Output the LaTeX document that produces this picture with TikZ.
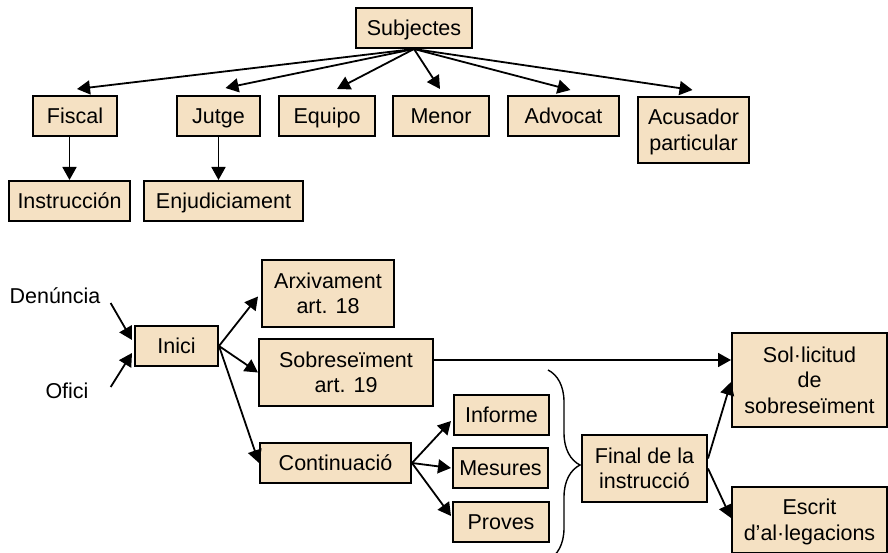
\documentclass[tikz,border=0pt]{standalone}
\usepackage{fontspec}
\setmainfont{Liberation Sans}
\usetikzlibrary{arrows.meta,decorations.pathreplacing,calc}
\definecolor{boxfill}{HTML}{F5E1C3}
\newcommand\mystrut{\rule[-5.1pt]{0pt}{25.5pt}}
\begin{document}
\begin{tikzpicture}[x=1pt,y=-1pt,
  box/.style={draw=black, line width=2pt, fill=boxfill, inner sep=0pt, align=center,
    font=\fontsize{21.5}{25.5}\selectfont},
  sz/.style 2 args={minimum width=#1pt, minimum height=#2pt},
  arr/.style={line width=1.8pt, -{Triangle[length=13pt,width=14pt]}},
  lbl/.style={inner sep=0pt, font=\fontsize{21.5}{25.5}\selectfont}]
\useasboundingbox (0,0) rectangle (888,553);
\clip (0,0) rectangle (888,553);

% ---- top tree ----
\node[box, sz={116}{40}] (subj) at (414,28) {\mystrut Subjectes};
\node[box, sz={84}{40}] (fiscal) at (75,116) {\mystrut Fiscal};
\node[box, sz={83}{40}] (jutge) at (218.5,116) {\mystrut Jutge};
\node[box, sz={96}{40}] (equipo) at (327,116) {\mystrut Equipo};
\node[box, sz={96}{40}] (menor) at (441,116) {\mystrut Menor};
\node[box, sz={111}{40}] (advocat) at (563.5,116) {\mystrut Advocat};
\node[box, sz={111}{66}] (acus) at (693.5,130) {\mystrut Acusador\\\mystrut particular};
\node[box, sz={121}{40}] (instr) at (69.5,201) {\mystrut Instrucción};
\node[box, sz={159}{40}] (enj) at (223.5,201) {\mystrut Enjudiciament};

\draw[arr] (subj.south) -- ([xshift=2pt,yshift=6pt]fiscal.north);
\draw[arr] (subj.south) -- ([xshift=7pt,yshift=7pt]jutge.north);
\draw[arr] (subj.south) -- ([xshift=10pt,yshift=6pt]equipo.north);
\draw[arr] (subj.south) -- ([xshift=-1pt,yshift=6pt]menor.north);
\draw[arr] (subj.south) -- ([xshift=7pt,yshift=5pt]advocat.north);
\draw[arr] (subj.south) -- ([xshift=-1pt,yshift=6pt]acus.north);
\draw[arr] (fiscal.south -| instr.north) -- (instr.north);
\draw[arr] (jutge.south) -- (jutge.south |- enj.north);

% ---- bottom flow ----
\node[lbl] (den) at (55,296) {Denúncia};
\node[lbl] (ofi) at (67,391) {Ofici};
\node[box, sz={83}{40}] (inici) at (176.5,346) {\mystrut Inici};
\node[box, sz={132}{67}] (arxiv) at (328,293.5) {\mystrut Arxivament\\\mystrut art. 18};
\node[box, sz={174}{67}] (sob) at (346,372.5) {\mystrut Sobreseïment\\\mystrut art. 19};
\node[box, sz={151}{40}] (cont) at (335.5,463) {\mystrut Continuació};
\node[box, sz={95}{40}] (informe) at (501.5,415) {\mystrut Informe};
\node[box, sz={95}{40}] (mesures) at (500.5,468) {\mystrut Mesures};
\node[box, sz={96}{40}] (proves) at (501,522) {\mystrut Proves};
\node[box, sz={125}{67}] (final) at (644.5,468.5) {\mystrut Final de la\\\mystrut instrucció};
\node[box, sz={155}{94}] (sol) at (809.5,380) {\mystrut Sol·licitud\\\mystrut de\\\mystrut sobreseïment};
\node[box, sz={155}{66}] (escrit) at (809.5,520) {\mystrut Escrit\\\mystrut d’al·legacions};

\draw[arr] ([xshift=10pt,yshift=-7pt]den.east) -- ([xshift=-2pt,yshift=6pt]inici.west);
\draw[arr] ([xshift=22pt,yshift=4pt]ofi.east) -- ([xshift=-2pt,yshift=-7pt]inici.west);

\draw[arr] (inici.east) -- ([xshift=-3pt,yshift=-3pt]arxiv.west);
\draw[arr] (inici.east) -- (sob.west);
\draw[arr] (inici.east) -- (cont.west);

\draw[arr] (cont.east) -- ([xshift=-2pt,yshift=-6pt]informe.west);
\draw[arr] (cont.east) -- ([xshift=-1pt]mesures.west);
\draw[arr] (cont.east) -- ([xshift=-1pt,yshift=6pt]proves.west);

\draw[arr] ([yshift=12.5pt]sob.east) -- ([yshift=12.5pt]sob.east -| sol.west);
\draw[arr] ([yshift=10pt]final.east) -- ([yshift=-2pt]sol.west);
\draw[arr] (final.east) -- ([yshift=2pt]escrit.west);

\draw[line width=1.4pt, decorate, decoration={brace, amplitude=32pt}] (548,370) -- (548,560);
\end{tikzpicture}
\end{document}
